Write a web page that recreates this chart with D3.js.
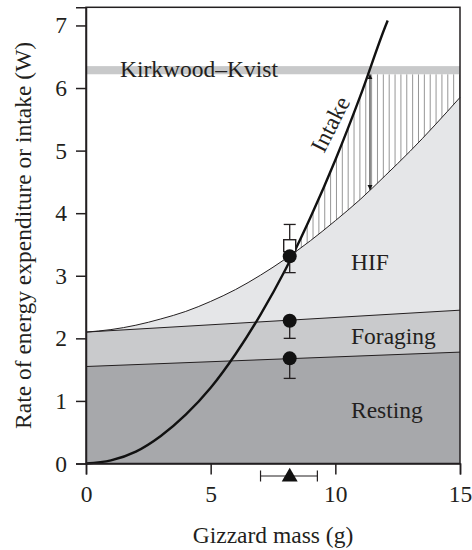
<!DOCTYPE html>
<html>
<head>
<meta charset="utf-8">
<script src="https://cdn.jsdelivr.net/npm/d3@7"></script>
<style>
  html, body { margin: 0; padding: 0; background: #fff; }
  svg text { font-family: "Liberation Serif", "Times New Roman", serif; fill: #231f20; }
</style>
</head>
<body>
<svg id="chart" width="472" height="550"></svg>
<script>
// values
const massTicks = [0, 5, 10, 15];
const rateTicks = [0, 1, 2, 3, 4, 5, 6, 7];

const hifMass = [0, 1, 2, 3, 4, 5, 6, 7, 8, 9, 10, 11, 12, 13, 14, 15];
const hifRate = [2.10, 2.14, 2.21, 2.31, 2.43, 2.59, 2.78, 3.01, 3.27, 3.56, 3.88, 4.22, 4.60, 4.99, 5.41, 5.85];

const intakeMass = [0, 1, 2, 3, 4, 5, 6, 7, 8, 9, 10, 11, 12, 12.1];
const intakeRate = [0, 0.05, 0.19, 0.44, 0.78, 1.21, 1.75, 2.38, 3.10, 3.93, 4.85, 5.87, 6.98, 7.08];

const lineMass = [0, 15];
const foragingRate = [2.10, 2.45];
const restingRate = [1.55, 1.78];

const kirkwoodBand = [6.22, 6.35];

const pointMass = 8.17;
const squareRate = 3.48;
const circleRates = [3.31, 2.28, 1.68];
const errorBars = [[3.05, 3.82], [2.0, 2.28], [1.36, 1.68]];
const gizzardRange = [7.0, 9.28];

const arrowMass = 11.39;
const arrowRate = [6.22, 4.37];

// hatch from where intake passes HIF to the right edge
const hatchStart = 8.4;
const hatchStep = 0.235;

const svg = d3.select("#chart");
const margin = { top: 7.3, right: 12, bottom: 86.5, left: 86 };
const W = 472, H = 550;

const x = d3.scaleLinear().domain([0, 15]).range([margin.left, W - margin.right]);
const y = d3.scaleLinear().domain([0, 7.29]).range([H - margin.bottom, margin.top]);

const defs = svg.append("defs");

const hif = hifMass.map((m, i) => [m, hifRate[i]]);
const intake = intakeMass.map((m, i) => [m, intakeRate[i]]);

// clip: region below the intake curve
const clipPts = intake.concat([[15, 7.29], [15, 0], [0, 0]]);
defs.append("clipPath").attr("id", "under-intake")
  .append("path")
  .attr("d", d3.line().x(d => x(d[0])).y(d => y(d[1]))(clipPts) + "Z");

// hatching
const hatchXs = d3.range(hatchStart, 15, hatchStep);
svg.append("g")
  .attr("clip-path", "url(#under-intake)")
  .selectAll("line")
  .data(hatchXs)
  .join("line")
  .attr("x1", d => x(d)).attr("x2", d => x(d))
  .attr("y1", y(kirkwoodBand[0])).attr("y2", y(0))
  .attr("stroke", "#8a8a8a")
  .attr("stroke-width", 0.9);

// filled bands
const areaCurve = d3.area()
  .x(d => x(d[0]))
  .y0(y(0))
  .y1(d => y(d[1]))
  .curve(d3.curveMonotoneX);

svg.append("path").datum(hif).attr("d", areaCurve).attr("fill", "#e5e6e8");
svg.append("path").datum(lineMass.map((m, i) => [m, foragingRate[i]]))
  .attr("d", areaCurve).attr("fill", "#c9cacc");
svg.append("path").datum(lineMass.map((m, i) => [m, restingRate[i]]))
  .attr("d", areaCurve).attr("fill", "#a7a8ab");

// Kirkwood-Kvist band
svg.append("rect")
  .attr("x", x(0)).attr("width", x(15) - x(0))
  .attr("y", y(kirkwoodBand[1]))
  .attr("height", y(kirkwoodBand[0]) - y(kirkwoodBand[1]))
  .attr("fill", "#c8c9ca");

// thin boundary lines
const line = d3.line().x(d => x(d[0])).y(d => y(d[1])).curve(d3.curveMonotoneX);
svg.append("path").datum(hif).attr("d", line)
  .attr("fill", "none").attr("stroke", "#231f20").attr("stroke-width", 1);
svg.append("path").datum(lineMass.map((m, i) => [m, foragingRate[i]])).attr("d", line)
  .attr("fill", "none").attr("stroke", "#231f20").attr("stroke-width", 1);
svg.append("path").datum(lineMass.map((m, i) => [m, restingRate[i]])).attr("d", line)
  .attr("fill", "none").attr("stroke", "#231f20").attr("stroke-width", 1);

// double arrow
const arrowHead = (id, orient) => {
  defs.append("marker").attr("id", id)
    .attr("viewBox", "0 0 10 10").attr("refX", 10).attr("refY", 5)
    .attr("markerWidth", 5).attr("markerHeight", 7)
    .attr("markerUnits", "userSpaceOnUse")
    .attr("orient", orient)
    .append("path").attr("d", "M0,0L10,5L0,10Z").attr("fill", "#111");
};
arrowHead("arr-end", "auto");
arrowHead("arr-start", "auto-start-reverse");
svg.append("line")
  .attr("x1", x(arrowMass)).attr("x2", x(arrowMass))
  .attr("y1", y(arrowRate[0])).attr("y2", y(arrowRate[1]))
  .attr("stroke", "#111").attr("stroke-width", 1)
  .attr("marker-start", "url(#arr-start)")
  .attr("marker-end", "url(#arr-end)");

// intake curve
svg.append("path").datum(intake).attr("d", line)
  .attr("fill", "none").attr("stroke", "#111").attr("stroke-width", 2.4);

// error bars
const cap = 6;
const bars = svg.append("g").attr("stroke", "#231f20").attr("stroke-width", 1.3);
errorBars.forEach(([lo, hi]) => {
  bars.append("line").attr("x1", x(pointMass)).attr("x2", x(pointMass))
    .attr("y1", y(lo)).attr("y2", y(hi));
  [lo, hi].forEach(v => {
    bars.append("line").attr("x1", x(pointMass) - cap).attr("x2", x(pointMass) + cap)
      .attr("y1", y(v)).attr("y2", y(v));
  });
});

// open square
svg.append("rect")
  .attr("x", x(pointMass) - 6).attr("y", y(squareRate) - 6)
  .attr("width", 12).attr("height", 12)
  .attr("fill", "#fff").attr("stroke", "#231f20").attr("stroke-width", 1.4);

// filled circles
svg.append("g").selectAll("circle").data(circleRates).join("circle")
  .attr("cx", x(pointMass)).attr("cy", d => y(d)).attr("r", 7)
  .attr("fill", "#111");

// frame
svg.append("rect")
  .attr("x", x(0)).attr("y", y(7.29))
  .attr("width", x(15) - x(0)).attr("height", y(0) - y(7.29))
  .attr("fill", "none").attr("stroke", "#231f20").attr("stroke-width", 1.5);

// axes
const fontSize = 23.5;
const xAxis = svg.append("g")
  .attr("transform", `translate(0,${y(0)})`)
  .call(d3.axisBottom(x).tickValues(massTicks).tickSize(11).tickPadding(10.5).tickFormat(d3.format("d")));
const yAxis = svg.append("g")
  .attr("transform", `translate(${x(0)},0)`)
  .call(d3.axisLeft(y).tickValues(rateTicks).tickSize(10).tickPadding(9).tickFormat(d3.format("d")));
[xAxis, yAxis].forEach(g => {
  g.select(".domain").attr("stroke", "#231f20").attr("stroke-width", 1.5);
  g.selectAll(".tick line").attr("stroke", "#231f20").attr("stroke-width", 1.5);
  g.selectAll(".tick text")
    .attr("font-family", "Liberation Serif, Times New Roman, serif")
    .attr("font-size", fontSize).attr("fill", "#231f20");
});

// triangle with horizontal error bar below axis
const triY = 476;
const tri = svg.append("g").attr("stroke", "#231f20").attr("stroke-width", 1.2);
tri.append("line").attr("x1", x(gizzardRange[0])).attr("x2", x(gizzardRange[1]))
  .attr("y1", triY).attr("y2", triY);
gizzardRange.forEach(v => {
  tri.append("line").attr("x1", x(v)).attr("x2", x(v))
    .attr("y1", triY - 5.5).attr("y2", triY + 5.5);
});
svg.append("path")
  .attr("d", d3.symbol(d3.symbolTriangle, 110)())
  .attr("transform", `translate(${x(pointMass)},${triY + 1})`)
  .attr("fill", "#111");

// axis titles
svg.append("text")
  .attr("x", (x(0) + x(15)) / 2).attr("y", 543)
  .attr("text-anchor", "middle").attr("font-size", fontSize)
  .text("Gizzard mass (g)");
svg.append("text")
  .attr("transform", `translate(31,${(y(0) + y(7.29)) / 2}) rotate(-90)`)
  .attr("text-anchor", "middle").attr("font-size", fontSize)
  .text("Rate of energy expenditure or intake (W)");

// in-plot labels
svg.append("text").attr("x", 120).attr("y", 76.5).attr("font-size", fontSize)
  .text("Kirkwood–Kvist");
svg.append("text").attr("x", 351).attr("y", 270).attr("font-size", fontSize).text("HIF");
svg.append("text").attr("x", 351).attr("y", 344).attr("font-size", fontSize).text("Foraging");
svg.append("text").attr("x", 351).attr("y", 417.5).attr("font-size", fontSize).text("Resting");
svg.append("text")
  .attr("transform", "translate(330,124) rotate(-63)")
  .attr("text-anchor", "middle").attr("dy", "0.35em")
  .attr("font-size", fontSize)
  .text("Intake");
</script>
</body>
</html>
